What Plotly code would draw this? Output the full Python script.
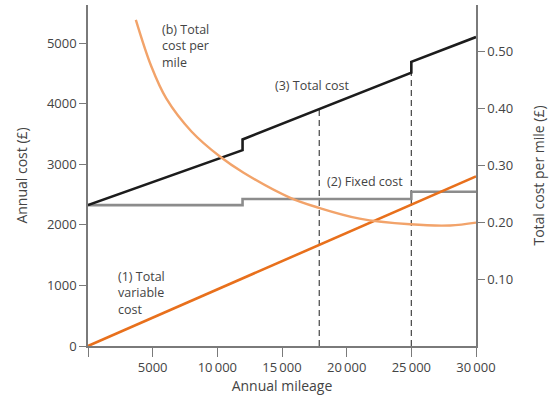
import plotly.graph_objects as go

# ---- data ----
variable_miles = [0, 30000]
variable_cost = [0, 2800]

fixed_miles = [0, 11950, 25000, 30000]
fixed_cost = [2325, 2425, 2545, 2545]

total_miles = [0, 11950, 11950, 25000, 25000, 30000]
total_cost = [2325, 3233, 3409, 4510, 4691, 5100]

cpm_miles = [3700, 4900, 6050, 8000, 10200, 12000, 15600, 17850, 21000, 24900, 28000, 30000]
cost_per_mile = [0.556, 0.474, 0.418, 0.360, 0.316, 0.288, 0.244, 0.226, 0.207, 0.197, 0.195, 0.200]

marked_miles = [17880, 25000]
marked_top = [3915, 4510]

x_ticks = [0, 5000, 10000, 15000, 20000, 25000, 30000]
x_labels = ["", "5000", "10\u2009000", "15\u2009000", "20\u2009000", "25\u2009000", "30\u2009000"]
y_ticks = [0, 1000, 2000, 3000, 4000, 5000]
y2_ticks = [0.10, 0.20, 0.30, 0.40, 0.50]
y2_labels = ["0.10", "0.20", "0.30", "0.40", "0.50"]

FONT = "Open Sans"
TXT = "#444444"
AX = "#7a7a7a"

fig = go.Figure()

for m, top in zip(marked_miles, marked_top):
    fig.add_trace(go.Scatter(x=[m, m], y=[0, top], mode="lines",
                             line=dict(color="#444444", width=1.2, dash="6px,4px"),
                             hoverinfo="skip", showlegend=False))

fig.add_trace(go.Scatter(x=fixed_miles, y=fixed_cost, mode="lines", line_shape="hv",
                         line=dict(color="#8c8c8c", width=2.6), showlegend=False))

fig.add_trace(go.Scatter(x=cpm_miles, y=cost_per_mile, mode="lines", yaxis="y2",
                         line=dict(color="#f2a36a", width=2.4, shape="spline", smoothing=1.0),
                         showlegend=False))

fig.add_trace(go.Scatter(x=total_miles, y=total_cost, mode="lines",
                         line=dict(color="#1c1c1c", width=2.6), showlegend=False))

fig.add_trace(go.Scatter(x=variable_miles, y=variable_cost, mode="lines",
                         line=dict(color="#e8701c", width=2.6), showlegend=False))

ann_font = dict(family=FONT, size=12.5, color=TXT)
notes = [
    (5560, 4955, "(b) Total<br>cost per<br>mile"),
    (14270, 4295, "(3) Total cost"),
    (18310, 2709, "(2) Fixed cost"),
    (2140, 875, "(1) Total<br>variable<br>cost"),
]
for x, y, t in notes:
    fig.add_annotation(x=x, y=y, xref="x", yref="y", text=t, showarrow=False,
                       xanchor="left", yanchor="middle", align="left", font=ann_font)

fig.update_layout(
    width=555, height=396,
    margin=dict(l=88, r=79, t=5, b=50),
    paper_bgcolor="white", plot_bgcolor="white",
    font=dict(family=FONT, size=13, color=TXT),
    xaxis=dict(range=[0, 30000], tickvals=x_ticks, ticktext=x_labels,
               showgrid=False, zeroline=False, showline=True, linecolor=AX, linewidth=1.5,
               ticks="outside", ticklen=9, tickwidth=1.2, tickcolor=AX,
               title=dict(text="Annual mileage", standoff=5, font=dict(size=14))),
    yaxis=dict(range=[0, 5628], tickvals=y_ticks,
               showgrid=False, zeroline=False, showline=True, linecolor=AX, linewidth=1.5,
               ticks="outside", ticklen=7, tickwidth=1.2, tickcolor=AX,
               title=dict(text="Annual cost (£)", standoff=16, font=dict(size=14))),
    yaxis2=dict(range=[-0.0167, 0.5821], tickvals=y2_ticks, ticktext=y2_labels,
                overlaying="y", side="right", anchor="x",
                showgrid=False, zeroline=False, showline=True, linecolor=AX, linewidth=1.5,
                ticks="outside", ticklen=7, tickwidth=1.2, tickcolor=AX,
                title=dict(text="Total cost per mile (£)", standoff=22, font=dict(size=14))),
)

fig.write_html("out.html", config={"displayModeBar": False},
               post_script="document.body.style.margin='0px';")
